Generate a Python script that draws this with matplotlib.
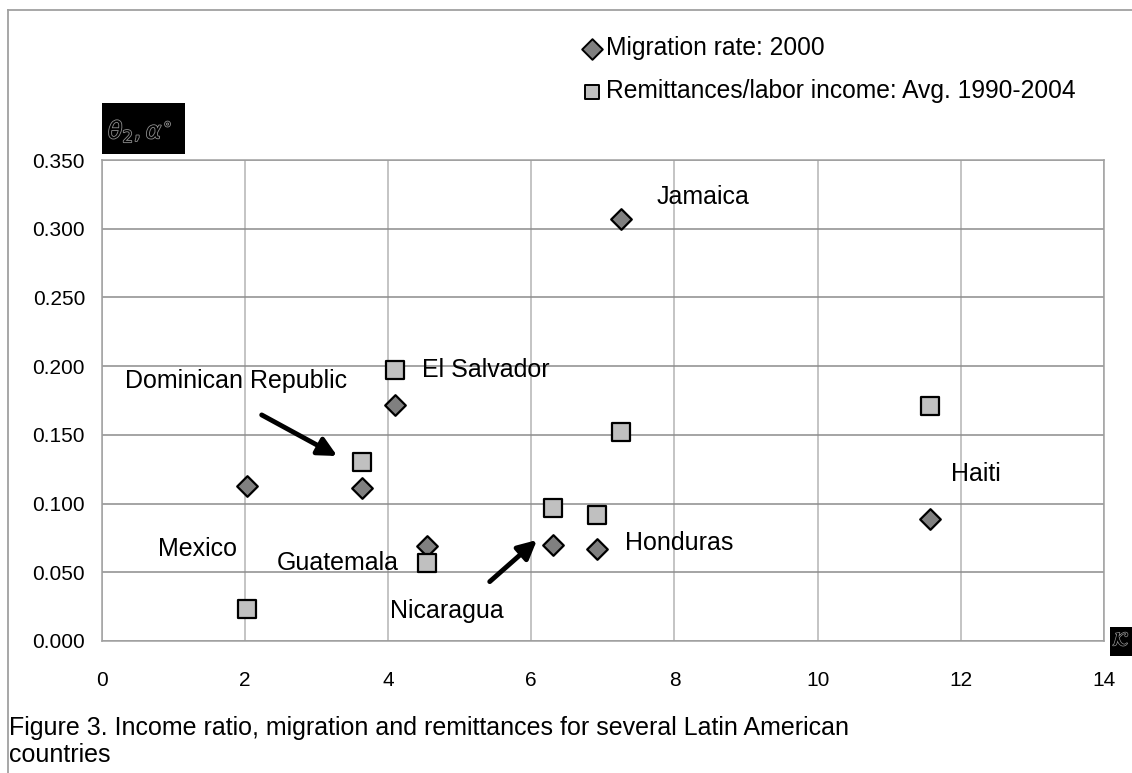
import matplotlib
matplotlib.use('Agg')
from matplotlib import pyplot as plt
from matplotlib.patches import Rectangle
from matplotlib.lines import Line2D
import matplotlib.patheffects as pe

plt.rcParams['font.family'] = ['Liberation Sans', 'DejaVu Sans']

# ---- data ----
countries      = ['Mexico', 'Dominican Republic', 'El Salvador', 'Guatemala',
                  'Nicaragua', 'Honduras', 'Jamaica', 'Haiti']
income_ratio   = [2.03, 3.63, 4.10, 4.55, 6.31, 6.92, 7.26, 11.57]
migration_rate = [0.113, 0.111, 0.172, 0.069, 0.070, 0.067, 0.307, 0.089]
remittances    = [0.023, 0.130, 0.197, 0.057, 0.097, 0.092, 0.152, 0.171]

# label anchors (left edge, vertical centre)
label_x = [0.79, 0.33, 4.48, 2.44, 4.03, 7.31, 7.75, 11.86]
label_y = [0.067, 0.189, 0.197, 0.057, 0.022, 0.071, 0.323, 0.1215]

W, H = 1132, 773
fig = plt.figure(figsize=(W / 100, H / 100), dpi=100)

def fx(px):
    return px / W

def fy(py):
    return 1 - py / H

ax = fig.add_axes([fx(101.7), fy(641), fx(1104 - 101.7), (641 - 160) / H])

ax.scatter(income_ratio, migration_rate, marker='D', s=10.5 ** 2,
           facecolor='#808080', edgecolor='black', linewidth=1.6, zorder=3,
           label='Migration rate: 2000')
ax.scatter(income_ratio, remittances, marker='s', s=13 ** 2,
           facecolor='#c0c0c0', edgecolor='black', linewidth=1.6, zorder=3,
           label='Remittances/labor income: Avg. 1990-2004')

for name, lx, ly in zip(countries, label_x, label_y):
    ax.text(lx, ly, name, fontsize=18, ha='left', va='center', zorder=4)

# arrows pointing at Dominican Republic and Nicaragua
arrow = dict(arrowstyle='-|>', color='black', lw=3.5, mutation_scale=28,
             shrinkA=0, shrinkB=0)
ax.annotate('', xy=(3.29, 0.1346), xytext=(2.235, 0.1645), arrowprops=arrow)
ax.annotate('', xy=(6.08, 0.0735), xytext=(5.42, 0.0432), arrowprops=arrow)

ax.set_xlim(0, 14)
ax.set_ylim(0, 0.35)
ax.set_xticks(range(0, 15, 2))
ax.set_yticks([i * 0.05 for i in range(8)])
ax.set_yticklabels(['%.3f' % (i * 0.05) for i in range(8)])
ax.tick_params(length=0, labelsize=15)
ax.tick_params(axis='x', pad=21.5)
ax.tick_params(axis='y', pad=12)

ax.xaxis.grid(True, color='#b4b4b4', linewidth=1.1)
ax.yaxis.grid(True, color='#8c8c8c', linewidth=1.1)
ax.set_axisbelow(True)
for s in ax.spines.values():
    s.set_color('#a0a0a0')
    s.set_linewidth(1.1)

leg = fig.legend(loc='upper left', bbox_to_anchor=(fx(581), fy(36)),
                 frameon=False, fontsize=17.7, handletextpad=0.1,
                 handlelength=0.9, labelspacing=0.78, borderpad=0,
                 borderaxespad=0)
for h in leg.legend_handles:
    h.set_sizes([10.5 ** 2])
    h.set_linewidth(1.4)

# broken equation objects beside the axes
fig.patches.append(Rectangle((fx(101.7), fy(154)), fx(185 - 101.7), (154 - 103.3) / H,
                             transform=fig.transFigure, facecolor='black',
                             edgecolor='none'))
fig.text(fx(108), fy(131), r'$\theta_2,\alpha^{\circ}$', fontsize=17, color='black',
         ha='left', va='center',
         path_effects=[pe.withStroke(linewidth=1.2, foreground='#909090')])
fig.patches.append(Rectangle((fx(1110), fy(655.7)), fx(22), (655.7 - 627.3) / H,
                             transform=fig.transFigure, facecolor='black',
                             edgecolor='none'))
fig.text(fx(1121), fy(641), r'$\mathcal{K}$', fontsize=14, color='black',
         ha='center', va='center',
         path_effects=[pe.withStroke(linewidth=1.0, foreground='#909090')])

# caption
fig.text(fx(9), fy(728), 'Figure 3. Income ratio, migration and remittances for several Latin American',
         fontsize=18, ha='left', va='center')
fig.text(fx(9), fy(755), 'countries', fontsize=18, ha='left', va='center')

# outer frame
fig.lines.append(Line2D([fx(7.5), fx(7.5)], [0, fy(10)], transform=fig.transFigure,
                        color='#a0a0a0', linewidth=1.3))
fig.lines.append(Line2D([fx(7.5), 1], [fy(10), fy(10)], transform=fig.transFigure,
                        color='#a0a0a0', linewidth=1.3))

fig.savefig('out.png', dpi=100)
